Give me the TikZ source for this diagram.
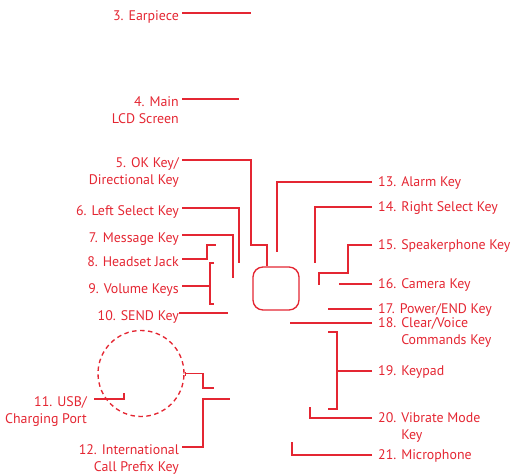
\documentclass[tikz,border=0pt]{standalone}
\usepackage{fontspec}
\setmainfont{PT Sans}
\usetikzlibrary{arrows.meta}
\definecolor{callout}{RGB}{228,38,50}
\tikzset{
  lbl/.style={inner sep=0pt, text=callout, font=\fontsize{13.9}{17}\selectfont},
  lblL/.style={lbl, anchor=north east, align=right},
  lblR/.style={lbl, anchor=north west, align=left},
  lead/.style={draw=callout, line width=1.35pt},
}

\begin{document}
\begin{tikzpicture}[x=1pt, y=-1pt]
\useasboundingbox (0,0) rectangle (511,474);

% parts %
\node[lead, rounded corners=10pt, minimum width=46pt, minimum height=43pt] (navkey) at (276,288.5) {};
\node[lead, circle, dash pattern=on 4.5pt off 3.5pt, minimum size=86pt] (port) at (141,373.5) {};

% labels left %
\node[lblL] (earpiece) at (179,10.2) {3. Earpiece};
\node[lblL] (lcd) at (179,96.2) {4. Main\\LCD Screen};
\node[lblL] (okkey) at (179,157.2) {5. OK Key/\\Directional Key};
\node[lblL] (leftsel) at (179,205.2) {6. Left Select Key};
\node[lblL] (msgkey) at (179,232.2) {7. Message Key};
\node[lblL] (headset) at (179,256.2) {8. Headset Jack};
\node[lblL] (volkeys) at (179,283.2) {9. Volume Keys};
\node[lblL] (sendkey) at (179,310.2) {10. SEND Key};
\node[lblL] (usb) at (87,396.2) {11. USB/\\Charging Port};
\node[lblL] (intl) at (179,444.2) {12. International\\Call Prefix Key};

% labels right %
\node[lblR] (alarm) at (378,176.8) {13. Alarm Key};
\node[lblR] (rightsel) at (378,201.8) {14. Right Select Key};
\node[lblR] (speaker) at (378,239.8) {15. Speakerphone Key};
\node[lblR] (camera) at (378,278.8) {16. Camera Key};
\node[lblR] (power) at (378,303.8) {17. Power/END Key};
\node[lblR] (clear) at (378,317.8) {18. Clear/Voice\\\hphantom{18. }Commands Key};
\node[lblR] (keypad) at (378,365.8) {19. Keypad};
\node[lblR] (vibrate) at (378,412.8) {20. Vibrate Mode\\\hphantom{20. }Key};
\node[lblR] (mic) at (378,449.8) {21. Microphone};

% free ends %
\coordinate (e3) at (251,13);
\coordinate (e4) at (239,99);
\coordinate (b5) at (251,245);
\coordinate (e6) at (239,263);
\coordinate (e7) at (233,278);
\coordinate (b8) at (207,245);
\coordinate (e8) at (216,245);
\coordinate (b9t) at (214,263);
\coordinate (b9b) at (214,304);
\coordinate (e9) at (210,286);
\coordinate (e10) at (228,313);
\coordinate (e11) at (124,393);
\coordinate (bp) at (203,388);
\coordinate (ep) at (214,388);
\coordinate (b12) at (203,399);
\coordinate (e12) at (230,399);
\coordinate (e13) at (277,252);
\coordinate (e14) at (315,263);
\coordinate (b15) at (348,273);
\coordinate (e15) at (319,285);
\coordinate (e16) at (339,284);
\coordinate (e17) at (328,309);
\coordinate (e18) at (290,323);
\coordinate (b19t) at (328,332);
\coordinate (b19b) at (328,409);
\coordinate (e19) at (337,371);
\coordinate (e20) at (310,407);
\coordinate (e21) at (292,442);

% leaders left %
\draw[lead] ([shift={(3,2.8)}]earpiece.north east) -- (e3);
\draw[lead] ([shift={(3,2.8)}]lcd.north east) -- (e4);
\draw[lead] ([shift={(3,2.8)}]okkey.north east) -| (b5) -| ([xshift=-9pt]navkey.north);
\draw[lead] ([shift={(3,2.8)}]leftsel.north east) -| (e6);
\draw[lead] ([shift={(3,2.8)}]msgkey.north east) -| (e7);
\draw[lead] ([shift={(3,2.8)}]headset.north east) -| (b8) -- (e8);
\draw[lead] ([shift={(3,2.8)}]volkeys.north east) -- (e9);
\draw[lead] (b9t) -| (e9) |- (b9b);
\draw[lead] ([shift={(0,2.8)}]sendkey.north east) -- (e10);
\draw[lead] ([shift={(7,2.8)}]usb.north east) -| (e11);
\draw[lead, {Bar[width=4pt]}-] (port.east) -| (bp) -- (ep);
\draw[lead] ([shift={(3,2.8)}]intl.north east) -| (b12) -- (e12);

% leaders right %
\draw[lead] ([shift={(-6,5.2)}]alarm.north west) -| (e13);
\draw[lead] ([shift={(-6,5.2)}]rightsel.north west) -| (e14);
\draw[lead] ([shift={(-6,5.2)}]speaker.north west) -| (b15) -| (e15);
\draw[lead] ([shift={(-6,5.2)}]camera.north west) -- (e16);
\draw[lead] ([shift={(-6,5.2)}]power.north west) -- (e17);
\draw[lead] ([shift={(-6,5.2)}]clear.north west) -- (e18);
\draw[lead] ([shift={(-6,5.2)}]keypad.north west) -- (e19);
\draw[lead] (b19t) -| (e19) |- (b19b);
\draw[lead] ([shift={(-6,5.2)}]vibrate.north west) -| (e20);
\draw[lead] ([shift={(-6,5.2)}]mic.north west) -| (e21);
\end{tikzpicture}
\end{document}
